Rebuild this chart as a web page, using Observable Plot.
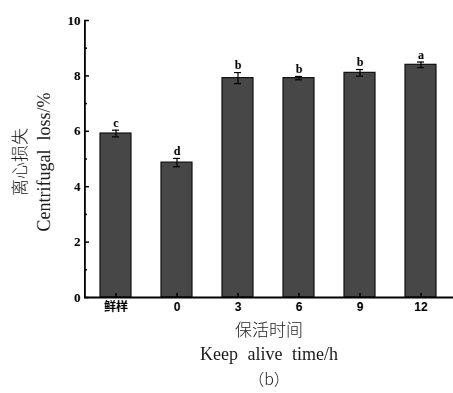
<!DOCTYPE html>
<html>
<head>
<meta charset="utf-8">
<script src="https://cdn.jsdelivr.net/npm/d3@7"></script>
<script src="https://cdn.jsdelivr.net/npm/@observablehq/plot@0.6"></script>
<style>
  body { margin: 0; background: #fff; width: 453px; height: 393px; overflow: hidden; color: #000; }
  #wrap { filter: grayscale(1); background: #fff; }
  #chart svg { display: block; }
  .xt { text-align: center; width: 370px; margin-left: 84px; color: #1a1a1a; }
  .cn { font-family: "Noto Sans CJK SC", sans-serif; font-size: 17px; line-height: 20px; margin-top: 3px; font-weight: 300; }
  .en { font-family: "Liberation Serif", serif; font-size: 18px; line-height: 20px; margin-top: 5px; word-spacing: 5px; }
  .lb { font-family: "Noto Sans CJK SC", sans-serif; font-size: 16px; line-height: 20px; margin-top: 4px; font-weight: 300; }
</style>
</head>
<body>
<div id="wrap">
<div id="chart"></div>
<div class="xt cn">保活时间</div>
<div class="xt en">Keep alive time/h</div>
<div class="xt lb">（b）</div>
</div>
<script>
const categories = ["鲜样", "0", "3", "6", "9", "12"];
const values = [5.92, 4.87, 7.92, 7.92, 8.11, 8.40];
const errors = [0.12, 0.15, 0.2, 0.06, 0.12, 0.1];
const letters = ["c", "d", "b", "b", "b", "a"];
const yTicks = [0, 2, 4, 6, 8, 10];
const yMinor = [1, 3, 5, 7, 9];

const data = categories.map((c, i) => ({cat: c, v: values[i], lo: values[i] - errors[i], hi: values[i] + errors[i], letter: letters[i]}));

const W = 453, H = 316, mT = 20, mB = 19, mL = 84, mR = 0;
const frameW = W - mL - mR, frameH = H - mT - mB;

const chart = Plot.plot({
  width: W,
  height: H,
  marginTop: mT,
  marginBottom: mB,
  marginLeft: mL,
  marginRight: mR,
  style: {background: "#fff", color: "#000"},
  x: {domain: categories, paddingInner: 0.484, paddingOuter: 0.226, label: null},
  y: {domain: [0, 10], label: null},
  marks: [
    Plot.barY(data, {x: "cat", y: "v", fill: "#474747", stroke: "#111", strokeWidth: 1.2}),
    Plot.ruleX(data, {x: "cat", y1: "lo", y2: "hi", stroke: "#000", strokeWidth: 1.2}),
    Plot.tickY(data, {x: "cat", y: "hi", stroke: "#000", strokeWidth: 1.2, insetLeft: 12, insetRight: 12}),
    Plot.tickY(data, {x: "cat", y: "lo", stroke: "#000", strokeWidth: 1.2, insetLeft: 12, insetRight: 12}),
    Plot.text(data, {x: "cat", y: "hi", text: "letter", dy: -7, fontFamily: "Liberation Serif", fontWeight: "bold", fontSize: 12, fill: "#000"}),
    // y axis line (frame's left edge)
    Plot.frame({stroke: "#000", strokeWidth: 1, insetRight: frameW - 0.8}),
    // inward y ticks
    Plot.tickY(yTicks, {y: d => d, insetRight: frameW - 5, stroke: "#000", strokeWidth: 1.5}),
    Plot.tickY(yMinor, {y: d => d, insetRight: frameW - 3, stroke: "#000", strokeWidth: 1.5}),
    // inward x ticks
    Plot.tickX(categories, {x: d => d, insetTop: frameH - 4, stroke: "#000", strokeWidth: 1.5}),
    Plot.axisY({ticks: yTicks, tickSize: 0, tickPadding: 4, fill: "#000", fontFamily: "Liberation Serif", fontWeight: "bold", fontSize: 13, label: null}),
    Plot.ruleY([0], {stroke: "#000", strokeWidth: 1.8}),
    Plot.axisX({tickSize: 0, tickPadding: 5, fill: "#000", fontFamily: "Liberation Sans, 'Noto Sans CJK SC'", fontWeight: "bold", fontSize: 12, label: null}),
    Plot.text(["离心损失"], {frameAnchor: "left", rotate: -90, textAnchor: "middle", dx: -64, dy: 3, fontFamily: "Noto Sans CJK SC", fontWeight: 300, fontSize: 17, fill: "#1a1a1a"}),
    Plot.text(["Centrifugal  loss/%"], {frameAnchor: "left", rotate: -90, textAnchor: "middle", dx: -40, dy: 3, fontFamily: "Liberation Serif", fontSize: 18, fill: "#1a1a1a"})
  ]
});
document.getElementById("chart").appendChild(chart);
</script>
</body>
</html>
